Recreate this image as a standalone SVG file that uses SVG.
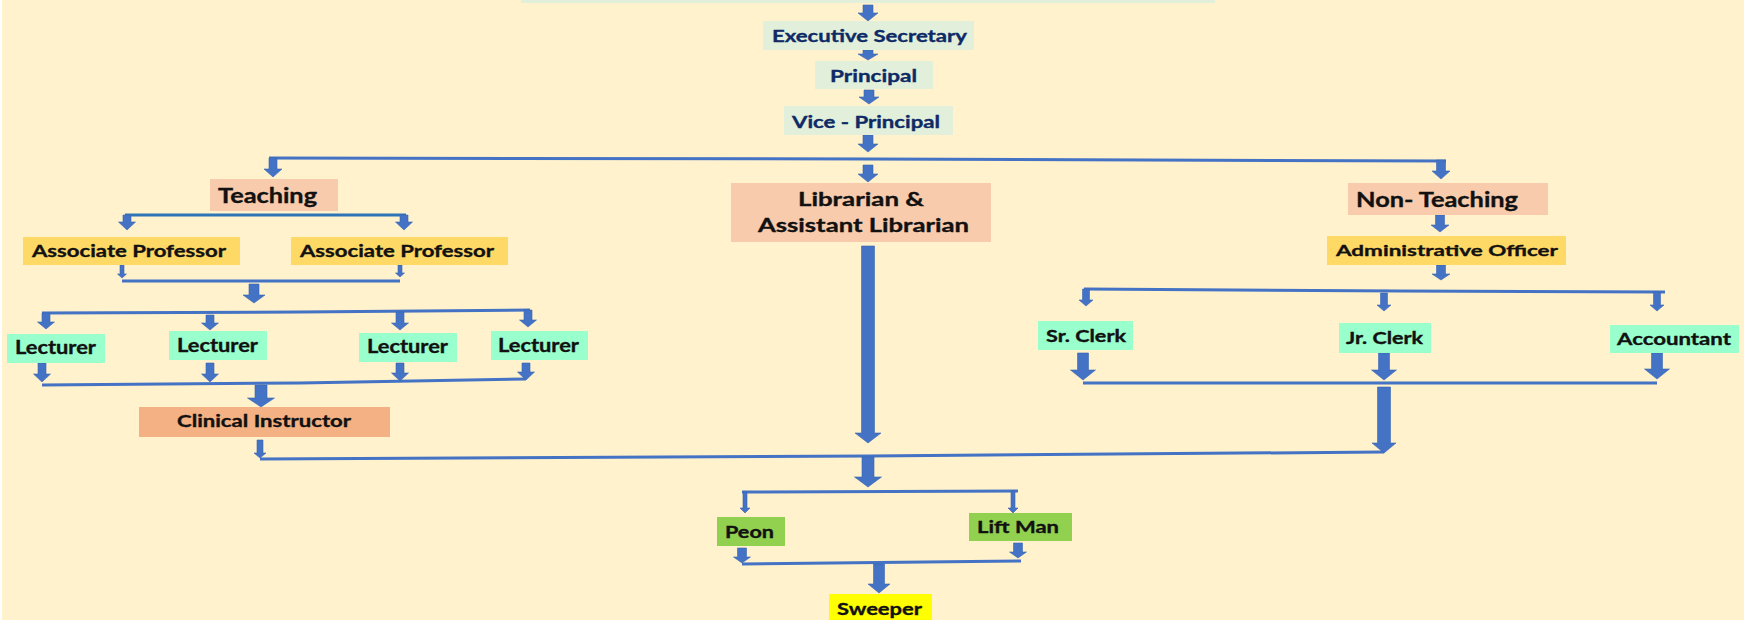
<svg xmlns="http://www.w3.org/2000/svg" width="1744" height="620" viewBox="0 0 1744 620">
<defs>
<style>
.bg{fill:#FFF2CC}
.t{font-family:Lato,"Open Sans","Liberation Sans",sans-serif;font-weight:700;fill:#111111;stroke:#111111;stroke-width:0.35}
.nv{fill:#0E2A66;stroke:#0E2A66}
.g1{fill:#E2EFDA}
.pk{fill:#F8CBAD}
.yl{fill:#FFD966}
.aq{fill:#99FFCC}
.or{fill:#F4B183}
.gr{fill:#92D050}
.sw{fill:#FFFF00}
.ar{fill:#4472C4;stroke:#3A66B5;stroke-width:0.6}
.ln{fill:none;stroke:#4472C4;stroke-width:3}
.ln2{fill:none;stroke:#2E75B6;stroke-width:3}
</style>
</defs>
<rect x="0" y="0" width="1744" height="620" fill="#FFFFFF"/>
<rect class="bg" x="2" y="0" width="1742" height="620"/>

<g id="connectors">
<polyline class="ln" points="269,158 870,159 1446,161"/>
<line class="ln2" x1="125" y1="215" x2="406" y2="215"/>
<line class="ln" x1="122" y1="281" x2="400" y2="281" stroke-width="2.5"/>
<polyline class="ln" points="42,313 300,312 530,310"/>
<polyline class="ln" points="42,385 300,383 526,379"/>
<polyline class="ln" points="260,459 870,456 1384,452"/>
<polyline class="ln" points="1084,289 1400,291 1665,292"/>
<line class="ln" x1="1083" y1="383" x2="1657" y2="383"/>
<line class="ln" x1="742" y1="492" x2="1018" y2="491"/>
<line class="ln" x1="742" y1="564" x2="1021" y2="561"/>
<polygon class="ar" points="863,5 873,5 873,13 878,13 868,21 858,13 863,13"/>
<polygon class="ar" points="863,50 873,50 873,54 878,54 868,60 858,54 863,54"/>
<polygon class="ar" points="864,90 874,90 874,97 879,97 869,104 859,97 864,97"/>
<polygon class="ar" points="863,135 873,135 873,144 878,144 868,152 858,144 863,144"/>
<polygon class="ar" points="269,158 277,158 277,169 282,169 273,177 264,169 269,169"/>
<polygon class="ar" points="863,165 873,165 873,174 878,174 868,182 858,174 863,174"/>
<polygon class="ar" points="1436.5,160 1445.5,160 1445.5,171 1450,171 1441,179 1432,171 1436.5,171"/>
<polygon class="ar" points="123,215 131,215 131,222 135.5,222 127,230 118.5,222 123,222"/>
<polygon class="ar" points="400,215 408,215 408,222 412.5,222 404,230 395.5,222 400,222"/>
<polygon class="ar" points="120,265 124,265 124,274 126.5,274 122,278 117.5,274 120,274"/>
<polygon class="ar" points="398,265 402,265 402,273 404.5,273 400,277 395.5,273 398,273"/>
<polygon class="ar" points="249,284 259,284 259,295 265,295 254,303 243,295 249,295"/>
<polygon class="ar" points="42,313 50,313 50,322 54.5,322 46,329 37.5,322 42,322"/>
<polygon class="ar" points="206,315 214,315 214,323 218.5,323 210,330 201.5,323 206,323"/>
<polygon class="ar" points="396,312 404,312 404,323 408.5,323 400,330 391.5,323 396,323"/>
<polygon class="ar" points="524,310 532,310 532,320 536.5,320 528,327 519.5,320 524,320"/>
<polygon class="ar" points="38,363 46,363 46,374 50.5,374 42,382 33.5,374 38,374"/>
<polygon class="ar" points="206,363 214,363 214,374 218.5,374 210,382 201.5,374 206,374"/>
<polygon class="ar" points="396,363 404,363 404,373 408.5,373 400,381 391.5,373 396,373"/>
<polygon class="ar" points="522,363 530,363 530,372 534.5,372 526,380 517.5,372 522,372"/>
<polygon class="ar" points="255,385 267,385 267,398 274.5,398 261,407 247.5,398 255,398"/>
<polygon class="ar" points="257,440 263,440 263,453 266,453 260,458 254,453 257,453"/>
<polygon class="ar" points="861.5,246 874.5,246 874.5,433 881,433 868,443 855,433 861.5,433"/>
<polygon class="ar" points="1435.5,215 1444.5,215 1444.5,225 1449,225 1440,232 1431,225 1435.5,225"/>
<polygon class="ar" points="1436.5,265 1445.5,265 1445.5,274 1450,274 1441,280 1432,274 1436.5,274"/>
<polygon class="ar" points="1082.5,289 1089.5,289 1089.5,300 1093,300 1086,306 1079,300 1082.5,300"/>
<polygon class="ar" points="1380.5,293 1387.5,293 1387.5,305 1391,305 1384,311 1377,305 1380.5,305"/>
<polygon class="ar" points="1653.5,292 1660.5,292 1660.5,305 1664,305 1657,311 1650,305 1653.5,305"/>
<polygon class="ar" points="1077.5,353 1088.5,353 1088.5,370 1095.5,370 1083,380 1070.5,370 1077.5,370"/>
<polygon class="ar" points="1378.5,353 1389.5,353 1389.5,370 1396.5,370 1384,380 1371.5,370 1378.5,370"/>
<polygon class="ar" points="1651.5,353 1662.5,353 1662.5,369 1669.5,369 1657,379 1644.5,369 1651.5,369"/>
<polygon class="ar" points="1377.5,387 1390.5,387 1390.5,443 1396,443 1384,453 1372,443 1377.5,443"/>
<polygon class="ar" points="862,457 874,457 874,477 881.5,477 868,487 854.5,477 862,477"/>
<polygon class="ar" points="743,492 747,492 747,508 750,508 745,513 740,508 743,508"/>
<polygon class="ar" points="1011,491 1015,491 1015,508 1018,508 1013,513 1008,508 1011,508"/>
<polygon class="ar" points="737.5,548 746.5,548 746.5,557 750.5,557 742,563 733.5,557 737.5,557"/>
<polygon class="ar" points="1013.5,543 1022.5,543 1022.5,552 1026.5,552 1018,558 1009.5,552 1013.5,552"/>
<polygon class="ar" points="873.5,564 884.5,564 884.5,584 890,584 879,593 868,584 873.5,584"/>
</g>

<g id="top-box"><rect class="g1" x="521" y="0" width="694" height="3"/></g>
<g id="exec-secretary"><rect class="g1" x="763" y="21" width="211" height="29"/><text class="t nv" x="772" y="42" font-size="17" textLength="195" lengthAdjust="spacingAndGlyphs">Executive Secretary</text></g>
<g id="principal"><rect class="g1" x="815" y="61" width="118" height="28"/><text class="t nv" x="830" y="82" font-size="17" textLength="87" lengthAdjust="spacingAndGlyphs">Principal</text></g>
<g id="vice-principal"><rect class="g1" x="784" y="106" width="169" height="29"/><text class="t nv" x="792" y="128" font-size="17" textLength="148" lengthAdjust="spacingAndGlyphs">Vice - Principal</text></g>

<g id="teaching"><rect class="pk" x="210" y="179" width="128" height="32"/><text class="t" x="218" y="203" font-size="20" textLength="99" lengthAdjust="spacingAndGlyphs">Teaching</text></g>
<g id="assoc-prof-1"><rect class="yl" x="23" y="237" width="217" height="28"/><text class="t" x="32" y="257" font-size="17" textLength="194" lengthAdjust="spacingAndGlyphs">Associate Professor</text></g>
<g id="assoc-prof-2"><rect class="yl" x="291" y="237" width="217" height="28"/><text class="t" x="300" y="257" font-size="17" textLength="194" lengthAdjust="spacingAndGlyphs">Associate Professor</text></g>
<g id="lecturer-1"><rect class="aq" x="7" y="334" width="98" height="29"/><text class="t" x="15" y="354" font-size="18" textLength="81" lengthAdjust="spacingAndGlyphs">Lecturer</text></g>
<g id="lecturer-2"><rect class="aq" x="169" y="331" width="98" height="29"/><text class="t" x="177" y="352" font-size="18" textLength="81" lengthAdjust="spacingAndGlyphs">Lecturer</text></g>
<g id="lecturer-3"><rect class="aq" x="359" y="333" width="98" height="29"/><text class="t" x="367" y="353" font-size="18" textLength="81" lengthAdjust="spacingAndGlyphs">Lecturer</text></g>
<g id="lecturer-4"><rect class="aq" x="491" y="331" width="97" height="29"/><text class="t" x="498" y="352" font-size="18" textLength="81" lengthAdjust="spacingAndGlyphs">Lecturer</text></g>
<g id="clinical-instructor"><rect class="or" x="139" y="407" width="251" height="30"/><text class="t" x="177" y="427" font-size="17" textLength="174" lengthAdjust="spacingAndGlyphs">Clinical Instructor</text></g>

<g id="librarian"><rect class="pk" x="731" y="183" width="260" height="59"/><text class="t" x="798" y="206" font-size="19" textLength="126" lengthAdjust="spacingAndGlyphs">Librarian &amp;</text><text class="t" x="758" y="232" font-size="19" textLength="211" lengthAdjust="spacingAndGlyphs">Assistant Librarian</text></g>

<g id="non-teaching"><rect class="pk" x="1348" y="183" width="200" height="32"/><text class="t" x="1356" y="207" font-size="20" textLength="162" lengthAdjust="spacingAndGlyphs">Non- Teaching</text></g>
<g id="admin-officer"><rect class="yl" x="1327" y="236" width="239" height="29"/><text class="t" x="1336" y="256" font-size="16" textLength="222" lengthAdjust="spacingAndGlyphs">Administrative Officer</text></g>
<g id="sr-clerk"><rect class="aq" x="1038" y="321" width="95" height="29"/><text class="t" x="1046" y="342" font-size="17" textLength="80" lengthAdjust="spacingAndGlyphs">Sr. Clerk</text></g>
<g id="jr-clerk"><rect class="aq" x="1339" y="323" width="92" height="30"/><text class="t" x="1346" y="344" font-size="17" textLength="77" lengthAdjust="spacingAndGlyphs">Jr. Clerk</text></g>
<g id="accountant"><rect class="aq" x="1610" y="325" width="129" height="28"/><text class="t" x="1617" y="345" font-size="17" textLength="114" lengthAdjust="spacingAndGlyphs">Accountant</text></g>

<g id="peon"><rect class="gr" x="717" y="517" width="68" height="29"/><text class="t" x="725" y="538" font-size="17" textLength="49" lengthAdjust="spacingAndGlyphs">Peon</text></g>
<g id="lift-man"><rect class="gr" x="969" y="513" width="103" height="28"/><text class="t" x="977" y="533" font-size="17" textLength="82" lengthAdjust="spacingAndGlyphs">Lift Man</text></g>
<g id="sweeper"><rect class="sw" x="829" y="594" width="103" height="30"/><text class="t" x="837" y="615" font-size="17" textLength="85" lengthAdjust="spacingAndGlyphs">Sweeper</text></g>
</svg>
